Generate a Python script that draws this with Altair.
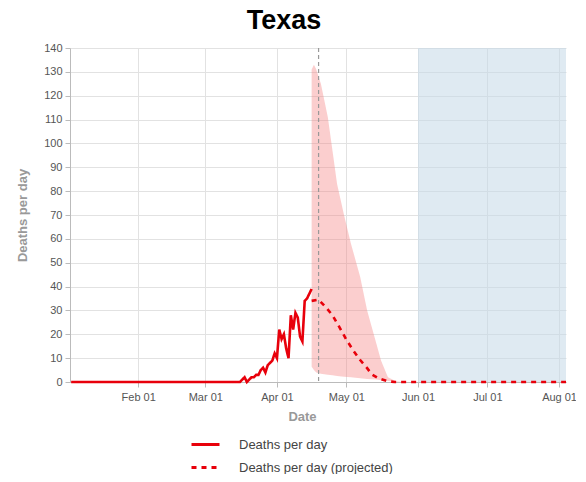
import altair as alt
import pandas as pd

# ---- data ----
zero_start = "2020-01-03"
zero_end = "2020-03-15"
rise_start = "2020-03-16"
actual_values = [0, 1, 2, 0, 1, 2, 2, 3, 3, 5, 6, 4, 7, 8, 9, 12, 10, 22, 18, 20,
                 14, 10, 28, 22, 29, 27, 19, 17, 34, 35, 37, 39]

proj_dates = ["2020-04-16", "2020-04-19", "2020-04-22", "2020-04-25", "2020-04-28",
              "2020-05-01", "2020-05-04", "2020-05-07", "2020-05-10", "2020-05-12",
              "2020-05-15", "2020-05-19", "2020-05-22", "2020-08-04"]
proj_values = [34, 34.5, 31.5, 28, 23, 17.8, 13.2, 9.2, 5.8, 3.2, 1.5, 0.3, 0, 0]

band_dates = ["2020-04-16", "2020-04-17", "2020-04-18", "2020-04-20", "2020-04-23",
              "2020-04-25", "2020-04-27", "2020-04-30", "2020-05-03", "2020-05-07",
              "2020-05-10", "2020-05-14", "2020-05-16", "2020-05-19", "2020-05-22",
              "2020-05-25"]
band_upper = [131, 133, 131, 125, 111, 97, 83, 70, 58, 44, 30, 16, 9, 2, 0.5, 0]
band_lower = [6.4, 5, 4, 3.5, 3, 2.8, 2.5, 2.2, 2, 1.6, 1.3, 1, 0.7, 0.4, 0.2, 0]

today_date = "2020-04-19"
shade_start = "2020-06-01"
shade_end = "2020-08-04"

series_names = ["Deaths per day", "Deaths per day (projected)"]
tick_dates = ["2020-02-01", "2020-03-01", "2020-04-01", "2020-05-01",
              "2020-06-01", "2020-07-01", "2020-08-01"]

# ---- build tables ----
zero_days = pd.date_range(zero_start, zero_end, freq="D")
rise_days = pd.date_range(rise_start, periods=len(actual_values), freq="D")
actual_df = pd.DataFrame({
    "date": list(zero_days) + list(rise_days),
    "value": [0] * len(zero_days) + actual_values,
    "series": series_names[0],
})
proj_df = pd.DataFrame({"date": pd.to_datetime(proj_dates), "value": proj_values,
                        "series": series_names[1]})
lines_df = pd.concat([actual_df, proj_df], ignore_index=True)
lines_df["date"] = lines_df["date"].dt.strftime("%Y-%m-%dT%H:%M:%S")

band_df = pd.DataFrame({"date": [d + "T00:00:00" for d in band_dates],
                        "lo": band_lower, "hi": band_upper})
shade_df = pd.DataFrame({"start": [shade_start + "T00:00:00"], "end": [shade_end + "T00:00:00"],
                         "y0": [0], "y1": [140]})
today_df = pd.DataFrame({"date": [today_date + "T00:00:00"]})


def dt(s, hours=0):
    y, m, d = s.split("-")
    return alt.DateTime(year=int(y), month=int(m), date=int(d), hours=hours)


x_scale = alt.Scale(domain=[dt("2020-01-02", 12), dt("2020-08-04")])
y_scale = alt.Scale(domain=[0, 140])

x_axis = alt.Axis(values=[dt(t) for t in tick_dates], format="%b %d", title="Date",
                  labelColor="#555", labelFontSize=11, labelPadding=4,
                  titleColor="#999", titleFontSize=13, titleFontWeight="bold",
                  titlePadding=8, titleX=232, tickSize=5, tickColor="#bbb",
                  domainColor="#bbb", gridColor="#e2e2e2")
y_axis = alt.Axis(values=list(range(0, 141, 10)), title="Deaths per day",
                  labelColor="#555", labelFontSize=11, labelPadding=3,
                  titleColor="#999", titleFontSize=13, titleFontWeight="bold",
                  titlePadding=14, tickSize=5, tickColor="#bbb",
                  domainColor="#bbb", gridColor="#e2e2e2")

X = alt.X("date:T", scale=x_scale, axis=x_axis)
Y = alt.Y("value:Q", scale=y_scale, axis=y_axis)

shade = alt.Chart(shade_df).mark_rect(color="#c4d9e8", opacity=0.55).encode(
    x=alt.X("start:T", scale=x_scale, axis=x_axis), x2="end:T",
    y=alt.Y("y0:Q", scale=y_scale, axis=y_axis), y2="y1:Q")

band = alt.Chart(band_df).mark_area(color="#f47a7a", opacity=0.37).encode(
    x=alt.X("date:T", scale=x_scale, axis=x_axis),
    y=alt.Y("lo:Q", scale=y_scale, axis=y_axis), y2="hi:Q")

today = alt.Chart(today_df).mark_rule(color="#999", strokeDash=[4, 3], strokeWidth=1.2).encode(
    x=alt.X("date:T", scale=x_scale, axis=x_axis))

lines = alt.Chart(lines_df).mark_line(strokeWidth=2.6).encode(
    x=X, y=Y,
    color=alt.Color("series:N", scale=alt.Scale(domain=series_names, range=["#e8000b", "#e8000b"]),
                    legend=alt.Legend(title=None)),
    strokeDash=alt.StrokeDash("series:N", scale=alt.Scale(domain=series_names, range=[[1, 0], [5, 5]]),
                              legend=alt.Legend(title=None)),
)

chart = alt.layer(shade, band, today, lines).properties(
    width=496, height=334,
    title=alt.TitleParams("Texas", fontSize=27, fontWeight="bold", color="#000",
                          font="Liberation Sans", dx=-34, offset=7),
    autosize=alt.AutoSizeParams(type="none"),
    padding={"left": 62, "top": 40, "right": 10, "bottom": 92},
).configure(font="Liberation Sans").configure_view(stroke=None).configure_legend(
    orient="none", legendX=120, legendY=381, symbolType="stroke", symbolStrokeWidth=3,
    symbolSize=784, labelFontSize=13, labelColor="#444", labelOffset=18, rowPadding=-3,
    labelFont="Liberation Sans")

chart.save("out.html", embed_options={"renderer": "svg", "actions": False})
